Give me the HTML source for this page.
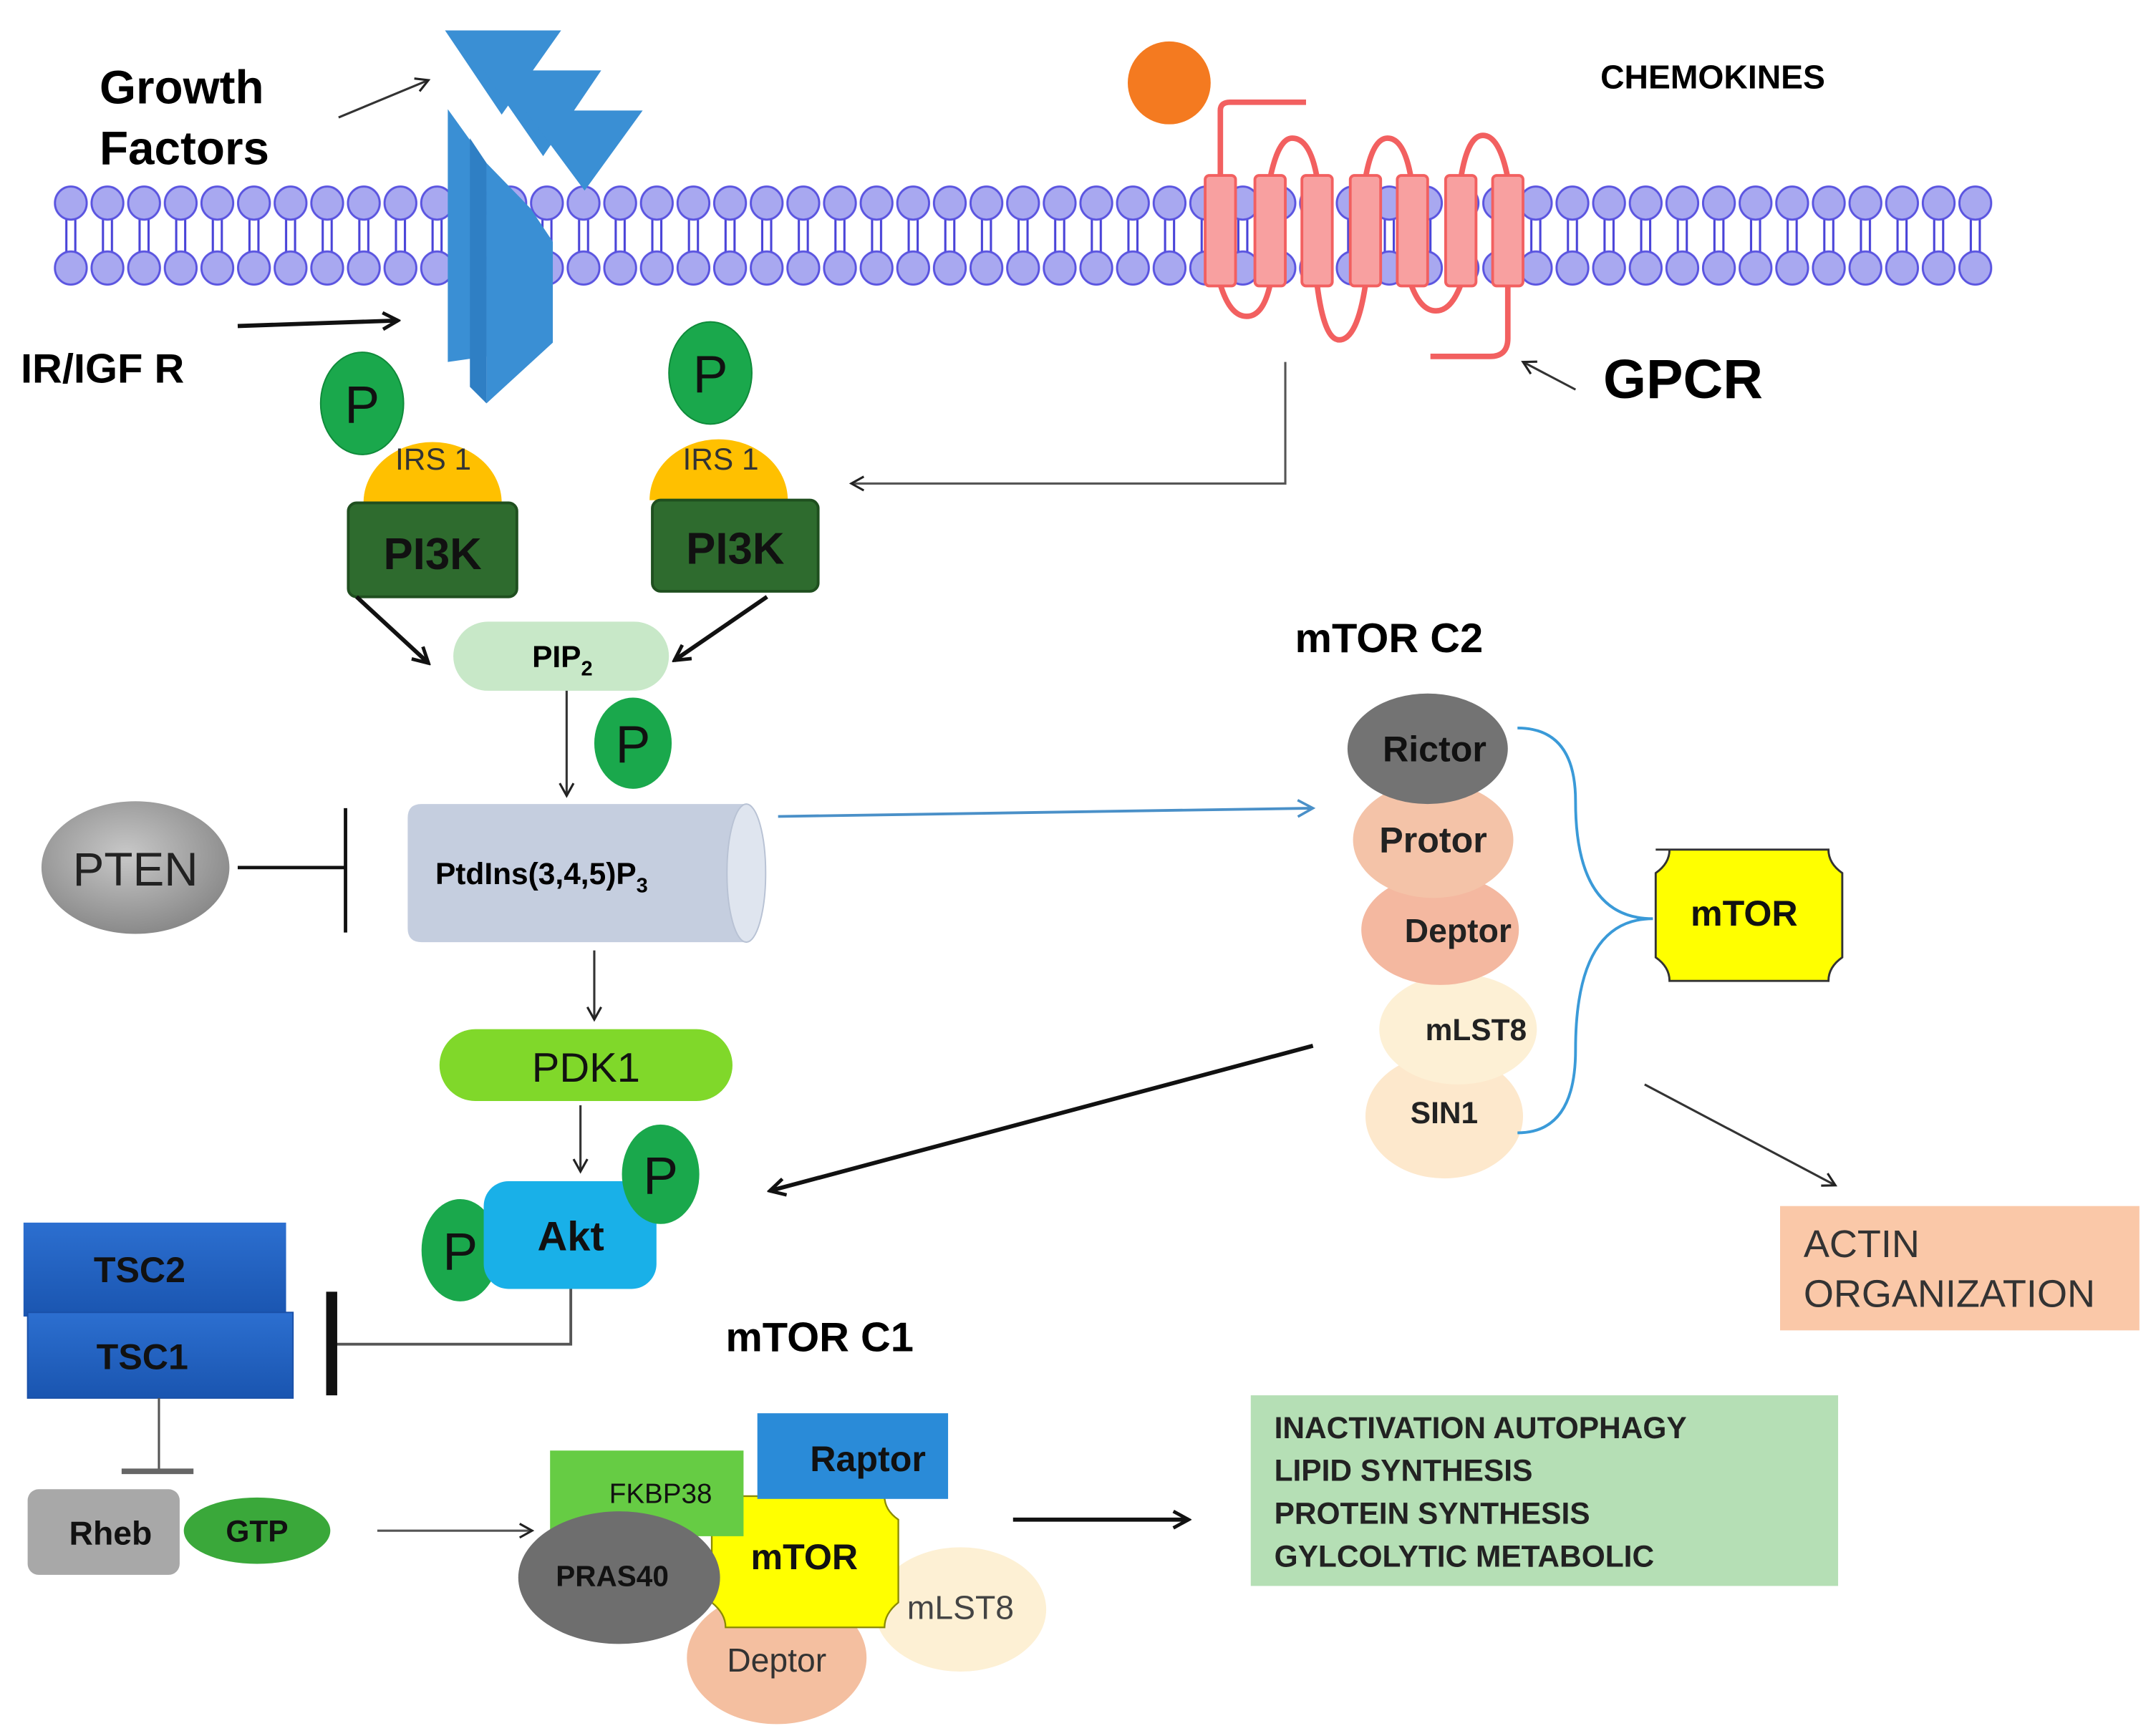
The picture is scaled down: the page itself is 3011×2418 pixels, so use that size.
<!DOCTYPE html>
<html><head><meta charset="utf-8"><style>
html,body{margin:0;padding:0;background:#fff}
svg{display:block}
text{font-family:"Liberation Sans",Arial,sans-serif}
</style></head><body>
<svg width="3011" height="2418" viewBox="0 0 1560 1253" preserveAspectRatio="none" xmlns="http://www.w3.org/2000/svg">
<defs>
<pattern id="mem" patternUnits="userSpaceOnUse" x="38" y="130" width="26.5" height="82">
 <line x1="10" y1="20" x2="10" y2="62" stroke="#4a44d8" stroke-width="1.6"/>
 <line x1="16.5" y1="20" x2="16.5" y2="62" stroke="#4a44d8" stroke-width="1.6"/>
 <ellipse cx="13.25" cy="17" rx="11.5" ry="12" fill="#a8a8f0" stroke="#5a54e0" stroke-width="1.5"/>
 <ellipse cx="13.25" cy="64" rx="11.5" ry="12" fill="#a8a8f0" stroke="#5a54e0" stroke-width="1.5"/>
</pattern>
<marker id="ah" markerWidth="12" markerHeight="12" refX="10" refY="6" orient="auto" markerUnits="userSpaceOnUse"><path d="M1,1 L10,6 L1,11" fill="none" stroke="#222" stroke-width="1.6"/></marker>
<marker id="ahb" markerWidth="14" markerHeight="14" refX="12" refY="7" orient="auto" markerUnits="userSpaceOnUse"><path d="M1,1 L12,7 L1,13" fill="none" stroke="#111" stroke-width="2.5"/></marker>
<marker id="ahblue" markerWidth="14" markerHeight="14" refX="12" refY="7" orient="auto" markerUnits="userSpaceOnUse"><path d="M1,1 L12,7 L1,13" fill="none" stroke="#4a90c8" stroke-width="1.8"/></marker>
<linearGradient id="tsc" x1="0" y1="0" x2="0" y2="1"><stop offset="0" stop-color="#2c6fd0"/><stop offset="1" stop-color="#1a55b0"/></linearGradient>
<radialGradient id="pten" cx="0.45" cy="0.4" r="0.6"><stop offset="0" stop-color="#c8c8c8"/><stop offset="1" stop-color="#8a8a8a"/></radialGradient>
</defs>

<!-- membrane -->
<rect x="38" y="130" width="1404.5" height="82" fill="url(#mem)"/>

<!-- growth factors -->
<text x="72" y="75" font-size="34" font-weight="bold">Growth</text>
<text x="72" y="119" font-size="34" font-weight="bold">Factors</text>
<line x1="245" y1="85" x2="310" y2="58" stroke="#333" stroke-width="1.6" marker-end="url(#ah)"/>
<polygon points="322,22 406,22 363,83" fill="#3a8fd4"/>
<polygon points="350,51 435,51 393,113" fill="#3a8fd4"/>
<polygon points="380,80 465,80 423,138" fill="#3a8fd4"/>
<polygon points="324,79 352,118 352,258 324,262" fill="#3a8fd4"/>
<polygon points="352,118 384,151 400,175 400,248 352,292" fill="#3a8fd4"/>
<polygon points="340,100 352,118 352,292 340,280" fill="#2f7fc4"/>

<text x="15" y="277" font-size="30" font-weight="bold">IR/IGF R</text>
<line x1="172" y1="236" x2="288" y2="232" stroke="#111" stroke-width="3" marker-end="url(#ahb)"/>

<!-- GPCR -->
<circle cx="846" cy="60" r="30" fill="#f47a20"/>
<g fill="none" stroke="#f26060" stroke-width="4">
 <path d="M883,129 V80 Q883,74 890,74 H945"/>
 <path d="M919,129 Q925,100 935,100 Q948,100 953,129"/>
 <path d="M988,129 Q993,100 1004,100 Q1016,100 1021,129"/>
 <path d="M1057,129 Q1062,98 1073,98 Q1085,98 1091,129"/>
 <path d="M883,206 Q890,229 902,229 Q914,229 919,206"/>
 <path d="M953,206 Q958,246 969,246 Q982,246 988,206"/>
 <path d="M1021,206 Q1028,225 1039,225 Q1050,225 1057,206"/>
 <path d="M1091,206 V245 Q1091,258 1078,258 H1035"/>
</g>
<g fill="#f8a0a0" stroke="#f26060" stroke-width="2">
 <rect x="872" y="127" width="22" height="80" rx="3"/>
 <rect x="908" y="127" width="22" height="80" rx="3"/>
 <rect x="942" y="127" width="22" height="80" rx="3"/>
 <rect x="977" y="127" width="22" height="80" rx="3"/>
 <rect x="1011" y="127" width="22" height="80" rx="3"/>
 <rect x="1046" y="127" width="22" height="80" rx="3"/>
 <rect x="1080" y="127" width="22" height="80" rx="3"/>
</g>
<text x="1158" y="64" font-size="24" font-weight="bold">CHEMOKINES</text>
<line x1="1140" y1="282" x2="1102" y2="262" stroke="#333" stroke-width="1.6" marker-end="url(#ah)"/>
<text x="1160" y="288" font-size="40" font-weight="bold">GPCR</text>
<polyline points="930,262 930,350 616,350" fill="none" stroke="#555" stroke-width="1.6" marker-end="url(#ah)"/>

<!-- left IRS/PI3K -->
<path d="M263,364 A50,44 0 0 1 363,364 Z" fill="#ffc000"/>
<text x="286" y="340" font-size="22" fill="#333">IRS 1</text>
<ellipse cx="262" cy="292" rx="30" ry="37" fill="#1aa84c" stroke="#0f8a3a" stroke-width="1"/>
<text x="262" y="306" font-size="38" text-anchor="middle" fill="#111">P</text>
<rect x="252" y="364" width="122" height="68" rx="6" fill="#2e6b2e" stroke="#1f4f1f" stroke-width="2"/>
<text x="313" y="412" font-size="32" font-weight="bold" text-anchor="middle" fill="#111">PI3K</text>
<!-- right IRS/PI3K -->
<path d="M470,362 A50,44 0 0 1 570,362 Z" fill="#ffc000"/>
<text x="494" y="340" font-size="22" fill="#333">IRS 1</text>
<ellipse cx="514" cy="270" rx="30" ry="37" fill="#1aa84c" stroke="#0f8a3a" stroke-width="1"/>
<text x="514" y="284" font-size="38" text-anchor="middle" fill="#111">P</text>
<rect x="472" y="362" width="120" height="66" rx="6" fill="#2e6b2e" stroke="#1f4f1f" stroke-width="2"/>
<text x="532" y="408" font-size="32" font-weight="bold" text-anchor="middle" fill="#111">PI3K</text>

<line x1="258" y1="432" x2="310" y2="480" stroke="#111" stroke-width="3" marker-end="url(#ahb)"/>
<line x1="555" y1="432" x2="488" y2="478" stroke="#111" stroke-width="3" marker-end="url(#ahb)"/>

<rect x="328" y="450" width="156" height="50" rx="25" fill="#c8e8c8"/>
<text x="385" y="483" font-size="22" font-weight="bold">PIP<tspan font-size="15" dy="6">2</tspan></text>
<line x1="410" y1="500" x2="410" y2="576" stroke="#333" stroke-width="1.6" marker-end="url(#ah)"/>
<ellipse cx="458" cy="538" rx="28" ry="33" fill="#1aa84c"/>
<text x="458" y="552" font-size="38" text-anchor="middle" fill="#111">P</text>

<!-- cylinder -->
<path d="M305,582 H540 A14,50 0 0 1 540,682 H305 Q295,682 295,672 V592 Q295,582 305,582 Z" fill="#c5cedf"/>
<ellipse cx="540" cy="632" rx="14" ry="50" fill="#dfe5ef" stroke="#b8c2d4"/>
<text x="315" y="640" font-size="22" font-weight="bold">PtdIns(3,4,5)P<tspan font-size="15" dy="6">3</tspan></text>

<ellipse cx="98" cy="628" rx="68" ry="48" fill="url(#pten)"/>
<text x="98" y="641" font-size="34" text-anchor="middle" fill="#222">PTEN</text>
<line x1="172" y1="628" x2="250" y2="628" stroke="#111" stroke-width="2.5"/>
<line x1="250" y1="585" x2="250" y2="675" stroke="#111" stroke-width="2.5"/>

<line x1="563" y1="591" x2="950" y2="585" stroke="#4a90c8" stroke-width="2" marker-end="url(#ahblue)"/>
<line x1="430" y1="688" x2="430" y2="738" stroke="#333" stroke-width="1.6" marker-end="url(#ah)"/>
<rect x="318" y="745" width="212" height="52" rx="26" fill="#80d82a"/>
<text x="424" y="783" font-size="30" text-anchor="middle" fill="#111">PDK1</text>
<line x1="420" y1="800" x2="420" y2="848" stroke="#333" stroke-width="1.6" marker-end="url(#ah)"/>

<!-- Akt -->
<ellipse cx="333" cy="905" rx="28" ry="37" fill="#1aa84c"/>
<rect x="350" y="855" width="125" height="78" rx="18" fill="#19b0e8"/>
<text x="413" y="905" font-size="30" font-weight="bold" text-anchor="middle" fill="#111">Akt</text>
<ellipse cx="478" cy="850" rx="28" ry="36" fill="#1aa84c"/>
<text x="478" y="864" font-size="38" text-anchor="middle" fill="#111">P</text>
<text x="333" y="919" font-size="38" text-anchor="middle" fill="#111">P</text>

<!-- TSC -->
<rect x="17" y="885" width="190" height="68" fill="url(#tsc)"/>
<text x="101" y="928" font-size="26" font-weight="bold" text-anchor="middle" fill="#111">TSC2</text>
<rect x="20" y="950" width="192" height="62" fill="url(#tsc)" stroke="#1a50a8"/>
<text x="103" y="991" font-size="26" font-weight="bold" text-anchor="middle" fill="#111">TSC1</text>
<polyline points="413,933 413,973 240,973" fill="none" stroke="#555" stroke-width="2"/>
<line x1="240" y1="935" x2="240" y2="1010" stroke="#111" stroke-width="8"/>
<line x1="115" y1="1012" x2="115" y2="1065" stroke="#555" stroke-width="1.6"/>
<line x1="88" y1="1065" x2="140" y2="1065" stroke="#666" stroke-width="4"/>

<rect x="20" y="1078" width="110" height="62" rx="8" fill="#a8a8a8"/>
<text x="80" y="1118" font-size="24" font-weight="bold" text-anchor="middle" fill="#111">Rheb</text>
<ellipse cx="186" cy="1108" rx="53" ry="24" fill="#3aa83a"/>
<text x="186" y="1116" font-size="22" font-weight="bold" text-anchor="middle" fill="#111">GTP</text>
<line x1="273" y1="1108" x2="385" y2="1108" stroke="#555" stroke-width="1.6" marker-end="url(#ah)"/>

<!-- mTOR C1 -->
<text x="525" y="978" font-size="30" font-weight="bold">mTOR C1</text>
<ellipse cx="695" cy="1165" rx="62" ry="45" fill="#fdf0d4"/>
<ellipse cx="562" cy="1200" rx="65" ry="48" fill="#f4bfa0"/>
<text x="562" y="1210" font-size="24" text-anchor="middle" fill="#333">Deptor</text>
<path d="M515,1083 H640 Q640,1093 650,1100 V1160 Q640,1168 640,1178 H525 Q525,1168 515,1160 Z" fill="#ffff00" stroke="#8a8a00" stroke-width="1.2"/>
<rect x="548" y="1023" width="138" height="62" fill="#2a8bd8"/>
<text x="628" y="1065" font-size="26" font-weight="bold" text-anchor="middle" fill="#111">Raptor</text>
<rect x="398" y="1050" width="140" height="62" fill="#66cc44"/>
<text x="478" y="1088" font-size="20" text-anchor="middle" fill="#111">FKBP38</text>
<text x="582" y="1136" font-size="26" font-weight="bold" text-anchor="middle" fill="#111">mTOR</text>
<text x="695" y="1172" font-size="24" text-anchor="middle" fill="#444">mLST8</text>
<ellipse cx="448" cy="1142" rx="73" ry="48" fill="#6e6e6e"/>
<text x="443" y="1148" font-size="21" font-weight="bold" text-anchor="middle" fill="#111">PRAS40</text>

<line x1="733" y1="1100" x2="860" y2="1100" stroke="#111" stroke-width="3" marker-end="url(#ahb)"/>
<rect x="905" y="1010" width="425" height="138" fill="#b5dfb5"/>
<g font-size="22" font-weight="bold" fill="#222">
<text x="922" y="1041">INACTIVATION AUTOPHAGY</text>
<text x="922" y="1072">LIPID SYNTHESIS</text>
<text x="922" y="1103">PROTEIN SYNTHESIS</text>
<text x="922" y="1134">GYLCOLYTIC METABOLIC</text>
</g>

<!-- mTOR C2 -->
<text x="937" y="472" font-size="30" font-weight="bold">mTOR C2</text>
<ellipse cx="1045" cy="808" rx="57" ry="45" fill="#fde8cc"/>
<ellipse cx="1055" cy="745" rx="57" ry="40" fill="#fdf0d5"/>
<ellipse cx="1042" cy="673" rx="57" ry="40" fill="#f4b8a0"/>
<ellipse cx="1037" cy="608" rx="58" ry="42" fill="#f4c3a8"/>
<ellipse cx="1033" cy="542" rx="58" ry="40" fill="#737373"/>
<text x="1038" y="551" font-size="26" font-weight="bold" text-anchor="middle" fill="#111">Rictor</text>
<text x="1037" y="617" font-size="26" font-weight="bold" text-anchor="middle" fill="#222">Protor</text>
<text x="1055" y="682" font-size="24" font-weight="bold" text-anchor="middle" fill="#222">Deptor</text>
<text x="1068" y="753" font-size="22" font-weight="bold" text-anchor="middle" fill="#222">mLST8</text>
<text x="1045" y="813" font-size="22" font-weight="bold" text-anchor="middle" fill="#222">SIN1</text>
<path d="M1098,527 Q1140,527 1140,580 Q1140,665 1196,665 Q1140,665 1140,760 Q1140,820 1098,820" fill="none" stroke="#3a9ad8" stroke-width="2"/>
<path d="M1198,615 H1323 Q1323,625 1333,632 V693 Q1323,700 1323,710 H1208 Q1208,700 1198,693 V632 Q1208,625 1208,615 Z" fill="#ffff00" stroke="#333" stroke-width="1.5"/>
<text x="1262" y="670" font-size="26" font-weight="bold" text-anchor="middle" fill="#111">mTOR</text>

<line x1="950" y1="757" x2="557" y2="862" stroke="#111" stroke-width="3" marker-end="url(#ahb)"/>
<line x1="1190" y1="785" x2="1328" y2="858" stroke="#333" stroke-width="1.6" marker-end="url(#ah)"/>
<rect x="1288" y="873" width="260" height="90" fill="#fac8a8"/>
<text x="1305" y="910" font-size="28" fill="#333">ACTIN</text>
<text x="1305" y="946" font-size="28" fill="#333">ORGANIZATION</text>
</svg>
</body></html>
